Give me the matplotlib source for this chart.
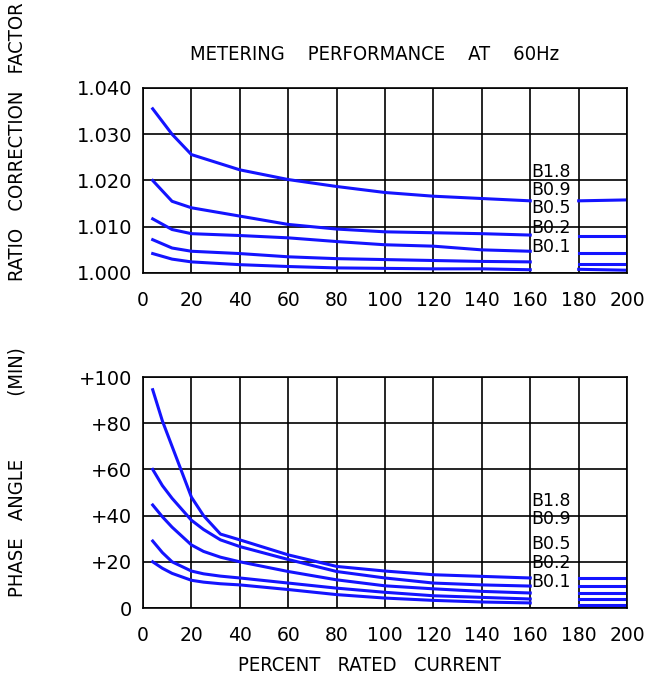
import matplotlib
matplotlib.use("Agg")
import matplotlib.pyplot as plt
import numpy as np

# Percent rated current (x) for the curve sample points
pct_right = [180, 200]

burdens = ['B1.8', 'B0.9', 'B0.5', 'B0.2', 'B0.1']

# Ratio correction factor
rcf_pct = [4, 12, 20, 40, 60, 80, 100, 120, 140, 160]
rcf_left = {
    'B1.8': [1.0355, 1.0300, 1.0256, 1.0223, 1.0202, 1.0187, 1.0174, 1.0166, 1.0161, 1.0156],
    'B0.9': [1.0200, 1.0155, 1.0141, 1.0123, 1.0105, 1.0095, 1.0089, 1.0087, 1.0085, 1.0082],
    'B0.5': [1.0117, 1.0094, 1.0085, 1.0081, 1.0076, 1.0068, 1.0061, 1.0058, 1.0050, 1.0047],
    'B0.2': [1.0072, 1.0054, 1.0047, 1.0042, 1.0035, 1.0031, 1.0029, 1.0027, 1.0025, 1.0024],
    'B0.1': [1.0042, 1.0030, 1.0024, 1.0018, 1.0014, 1.0011, 1.0010, 1.0009, 1.0009, 1.0007],
}
rcf_right = {
    'B1.8': [1.0156, 1.0158],
    'B0.9': [1.0081, 1.0081],
    'B0.5': [1.0043, 1.0043],
    'B0.2': [1.0019, 1.0019],
    'B0.1': [1.0008, 1.0006],
}

# Phase angle (minutes)
pa_pct = [4, 8, 12, 20, 25, 32, 40, 60, 80, 100, 120, 140, 160]
pa_left = {
    'B1.8': [94.5, 81, 70, 48, 40, 32, 29.5, 23, 18, 16, 14.4, 13.7, 13],
    'B0.9': [60, 53, 47.5, 38, 34, 29.5, 26.6, 21, 15.8, 13, 10.8, 10, 9.5],
    'B0.5': [44.6, 39.5, 35, 27.3, 24.5, 22, 20, 15.8, 12.2, 9.6, 8.3, 7.2, 6.5],
    'B0.2': [29, 24, 20, 16, 14.8, 13.8, 13, 10.8, 8.6, 6.8, 5.3, 4.6, 3.9],
    'B0.1': [20, 17.2, 15, 12, 11.2, 10.5, 10, 8, 5.8, 4.3, 3.3, 2.6, 2.2],
}
pa_right = {
    'B1.8': [13, 13],
    'B0.9': [9.5, 9.5],
    'B0.5': [6.5, 6.5],
    'B0.2': [3.8, 3.8],
    'B0.1': [1.5, 1.5],
}

rcf_label_y = [1.0218, 1.0180, 1.0141, 1.0097, 1.0056]
pa_label_y = [46.3, 38.4, 27.7, 19.5, 11.4]

x_ticks = list(range(0, 201, 20))
rcf_ticks = [1.000, 1.010, 1.020, 1.030, 1.040]
rcf_ticklabels = ['1.000', '1.010', '1.020', '1.030', '1.040']
pa_ticks = [0, 20, 40, 60, 80, 100]
pa_ticklabels = ['0', '+20', '+40', '+60', '+80', '+100']

tick_font = 'DejaVu Sans'
blue = '#1414ff'
lab_kw = dict(family='DejaVu Sans', stretch='condensed', fontsize=14.5)

fig = plt.figure(figsize=(6.48, 6.83), dpi=100)
ax1 = fig.add_axes([0.2207, 0.6003, 0.747, 0.2709])
ax2 = fig.add_axes([0.2207, 0.1098, 0.747, 0.3382])


def style_axes(ax, yticks, yticklabels, ylim):
    ax.set_xlim(0, 200)
    ax.set_ylim(*ylim)
    ax.set_xticks(x_ticks)
    ax.set_xticklabels([str(t) for t in x_ticks], family=tick_font, fontsize=13.5)
    ax.set_yticks(yticks)
    ax.set_yticklabels(yticklabels, family=tick_font, fontsize=14)
    ax.tick_params(axis='x', length=0, pad=13)
    ax.tick_params(axis='y', length=0, pad=8)
    ax.grid(True, color='black', linewidth=1.2)
    ax.set_axisbelow(True)
    for s in ax.spines.values():
        s.set_linewidth(1.2)


# Top: ratio correction factor
for b in burdens:
    ax1.plot(rcf_pct, rcf_left[b], color=blue, linewidth=2.2)
    ax1.plot(pct_right, rcf_right[b], color=blue, linewidth=2.2)
style_axes(ax1, rcf_ticks, rcf_ticklabels, (1.000, 1.040))
for b, y in zip(burdens, rcf_label_y):
    ax1.text(160.3, y, b, fontsize=12.5, family=tick_font, va='center', ha='left')
ax1.set_title('METERING    PERFORMANCE    AT    60Hz', x=0.478, pad=20,
              family='DejaVu Sans', stretch='condensed', fontsize=14.5)
fig.text(0.027, 0.792, 'RATIO   CORRECTION   FACTOR', rotation=90,
         ha='center', va='center', **lab_kw)

# Bottom: phase angle
for b in burdens:
    ax2.plot(pa_pct, pa_left[b], color=blue, linewidth=2.2)
    ax2.plot(pct_right, pa_right[b], color=blue, linewidth=2.2)
style_axes(ax2, pa_ticks, pa_ticklabels, (0, 100))
for b, y in zip(burdens, pa_label_y):
    ax2.text(160.3, y, b, fontsize=12.5, family=tick_font, va='center', ha='left')
ax2.set_xlabel('PERCENT   RATED   CURRENT', labelpad=8, x=0.468, **lab_kw)
fig.text(0.027, 0.309, 'PHASE   ANGLE           (MIN)', rotation=90,
         ha='center', va='center', **lab_kw)

fig.savefig('out.png', dpi=100)
